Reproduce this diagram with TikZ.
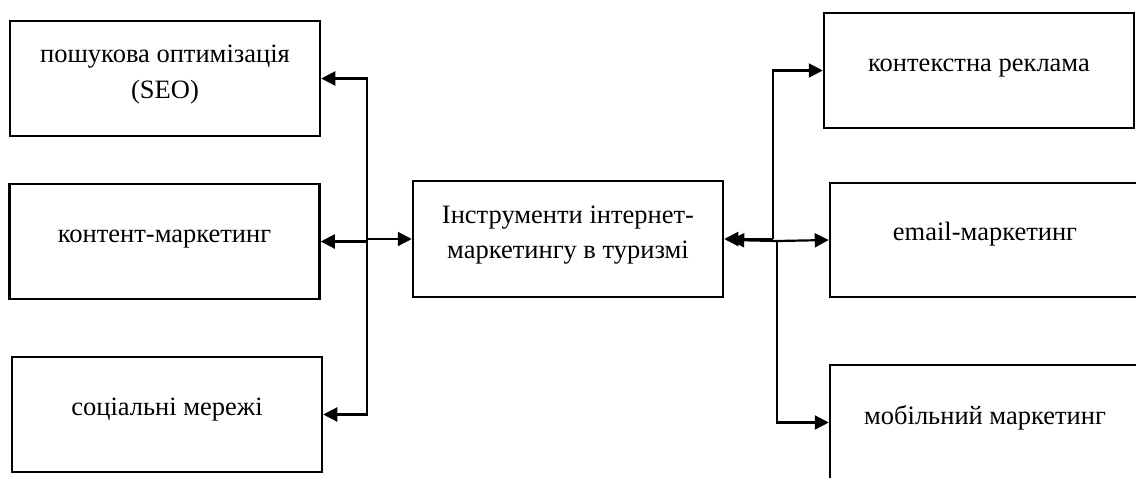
\documentclass[tikz,border=0pt]{standalone}
\usepackage{fontspec}
\setmainfont{Liberation Serif}
\usetikzlibrary{arrows.meta}
\begin{document}
\begin{tikzpicture}[x=1pt,y=-1pt,
  box/.style={draw, line width=2.5pt, inner sep=0pt, minimum width=310pt, minimum height=115pt},
  lbl/.style={align=center, font=\fontsize{26.5}{35.5}\selectfont, inner sep=0pt},
  arr/.style={line width=2.2pt, -{Triangle[length=14pt,width=14pt]}}]
\useasboundingbox (0,0) rectangle (1136,477);
% boxes
\node[box] (l1) at (165,78.5) {};
\node[box] (l2) at (164.5,241.5) {};
\node[box] (l3) at (167,414.5) {};
\node[box, minimum height=116pt] (c) at (568,239) {};
\node[box] (r1) at (979,70.5) {};
\node[box, minimum height=114pt] (r2) at (985,240) {};
\node[box] (r3) at (985,422.5) {};
% labels
\node[lbl] (t1) at (165,74.5) {пошукова оптимізація\\(SEO)};
\node[lbl] (t2) at (164.5,239) {контент-маркетинг};
\node[lbl] (t3) at (167,410) {соціальні мережі};
\node[lbl] (tc) at (568,235) {Інструменти інтернет-\\маркетингу в туризмі};
\node[lbl] (tr1) at (979,68) {контекстна реклама};
\node[lbl] (tr2) at (985,234) {email-маркетинг};
\node[lbl] (tr3) at (985,418) {мобільний маркетинг};
% junctions
\coordinate (lj) at (367,239);
\coordinate (rj1) at (773,239);
\coordinate (rj2) at (777,241);
% left connectors
\draw[arr] (lj) -- (c.west);
\draw[arr] (lj) |- (l1.east);
\draw[arr] (lj) |- (l2.east);
\draw[arr] (lj) |- (l3.east);
% right connectors
\draw[arr] (rj1) -- (c.east);
\draw[arr] (rj2) -- ([xshift=6pt,yshift=-1pt]c.east);
\draw[arr] (rj1) |- (r1.west);
\draw[arr] (rj2) -- (r2.west);
\draw[arr] (rj2) |- (r3.west);
\end{tikzpicture}
\end{document}
